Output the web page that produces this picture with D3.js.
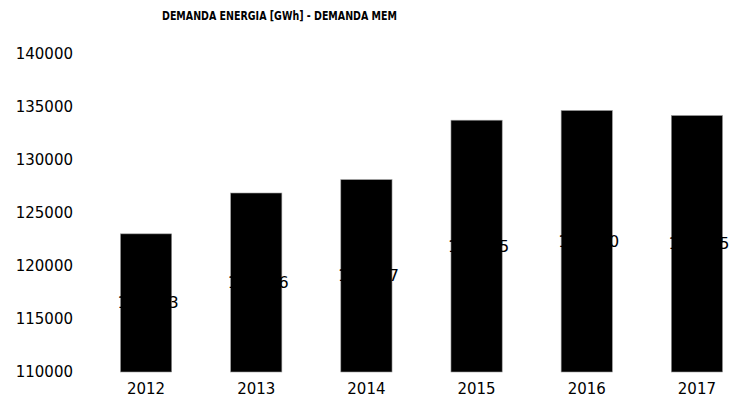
<!DOCTYPE html>
<html>
<head>
<meta charset="utf-8">
<script src="https://cdn.jsdelivr.net/npm/d3@7"></script>
<style>
  body { margin: 0; background: #fff; }
  text { font-family: "DejaVu Sans", sans-serif; fill: #000; }
</style>
</head>
<body>
<div id="chart-wrapper"></div>
<script>
// Data
const years = ["2012", "2013", "2014", "2015", "2016", "2017"];
const demanda = [123033, 126886, 128147, 133755, 134670, 134195];
const yTicks = [110000, 115000, 120000, 125000, 130000, 135000, 140000];
const title = "DEMANDA ENERGIA [GWh] - DEMANDA MEM";

function drawChart() {
  const dataset = years.map((y, i) => ({ year: y, value: demanda[i] }));
  const xAccessor = (d) => d.year;
  const yAccessor = (d) => d.value;

  // Build chart dimensions
  let dimensions = {
    width: 730,
    height: 410,
    margin: { top: 54, right: -22, bottom: 38, left: 91 },
  };
  dimensions.boundedWidth =
    dimensions.width - dimensions.margin.left - dimensions.margin.right;
  dimensions.boundedHeight =
    dimensions.height - dimensions.margin.top - dimensions.margin.bottom;

  // Draw the canvas
  const wrapper = d3
    .select("#chart-wrapper")
    .append("svg")
    .attr("width", dimensions.width)
    .attr("height", dimensions.height);
  const bounds = wrapper
    .append("g")
    .attr("transform", `translate(${dimensions.margin.left},${dimensions.margin.top})`);

  // Scales
  const xScale = d3
    .scaleBand()
    .domain(years)
    .range([0, dimensions.boundedWidth])
    .paddingInner(0.535)
    .paddingOuter(0.2675);
  const yScale = d3
    .scaleLinear()
    .domain([110000, 140000])
    .range([dimensions.boundedHeight, 0]);

  // Bars
  bounds
    .selectAll("rect.bar")
    .data(dataset)
    .enter()
    .append("rect")
    .attr("class", "bar")
    .attr("x", (d) => xScale(xAccessor(d)))
    .attr("y", (d) => yScale(yAccessor(d)))
    .attr("width", xScale.bandwidth())
    .attr("height", (d) => yScale(110000) - yScale(yAccessor(d)))
    .attr("fill", "#000")
    .attr("stroke", "#9a9a9a")
    .attr("stroke-width", 0.6);

  // Value labels (black on black, only the ends show)
  bounds
    .selectAll("text.value")
    .data(dataset)
    .enter()
    .append("text")
    .attr("class", "value")
    .attr("x", (d) => xScale(xAccessor(d)) + xScale.bandwidth() / 2 + 2)
    .attr("y", (d) => (yScale(yAccessor(d)) + yScale(110000)) / 2)
    .attr("text-anchor", "middle")
    .attr("dominant-baseline", "central")
    .style("font-size", "16px")
    .text((d) => yAccessor(d));

  // Axes
  const yAxisGenerator = d3
    .axisLeft(yScale)
    .tickValues(yTicks)
    .tickSize(0)
    .tickPadding(18)
    .tickFormat(d3.format("d"));
  const yAxis = bounds.append("g").attr("class", "y-axis").call(yAxisGenerator);
  yAxis.select(".domain").remove();
  yAxis.selectAll("text").style("font-size", "15px").attr("fill", "#000");

  const xAxisGenerator = d3.axisBottom(xScale).tickSize(0).tickPadding(22);
  const xAxis = bounds
    .append("g")
    .attr("class", "x-axis")
    .attr("transform", `translate(0,${dimensions.boundedHeight})`)
    .call(xAxisGenerator);
  xAxis.select(".domain").remove();
  xAxis.selectAll("text").style("font-size", "15px").attr("fill", "#000");
  xAxis.selectAll("text").attr("dy", "0");

  // Title
  wrapper
    .append("text")
    .attr("x", 279.5)
    .attr("y", 20)
    .attr("text-anchor", "middle")
    .attr("textLength", 235)
    .attr("lengthAdjust", "spacingAndGlyphs")
    .style("font-size", "12.5px")
    .style("font-weight", "bold")
    .text(title);
}

drawChart();
</script>
</body>
</html>
